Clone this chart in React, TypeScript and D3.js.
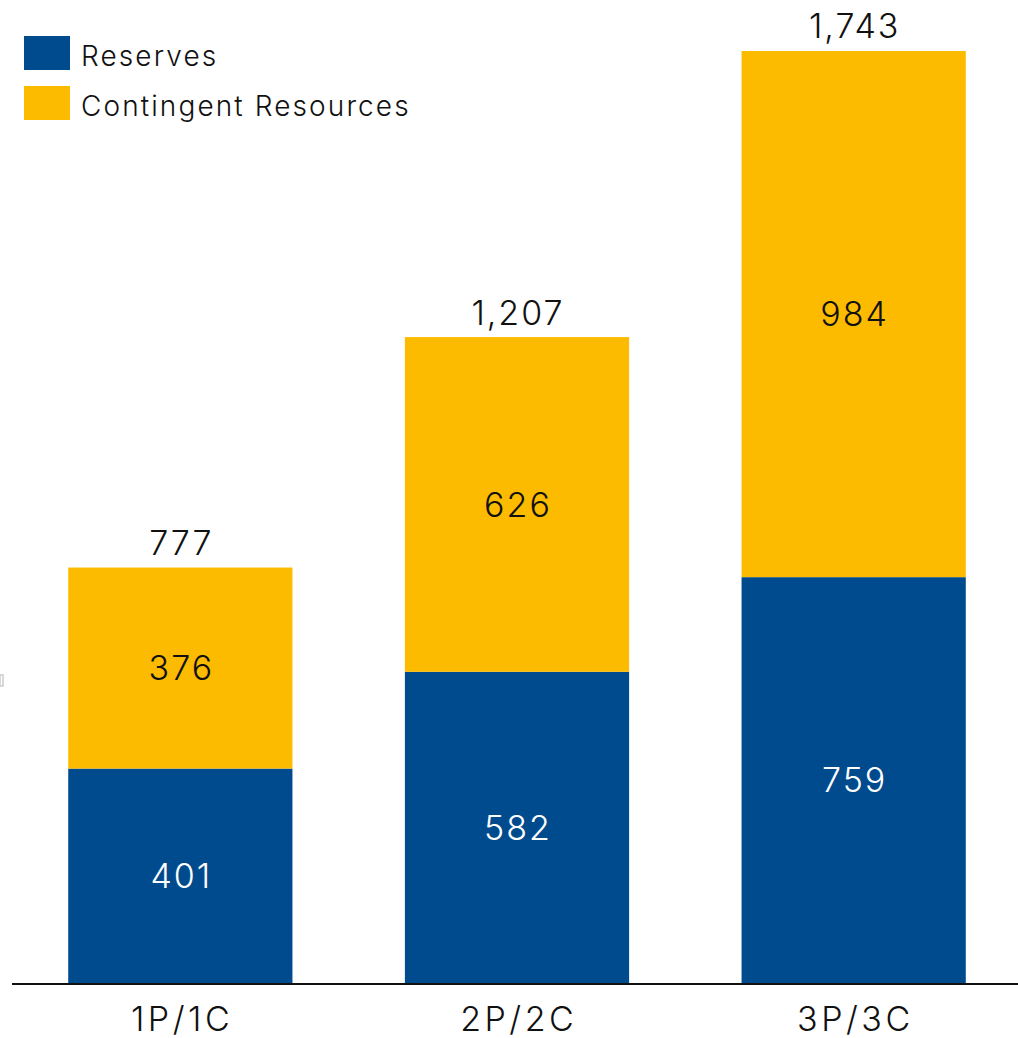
import React from "react";
import * as d3 from "d3";

const categories = ["1P/1C", "2P/2C", "3P/3C"];
const reserves = [401, 582, 759];
const contingent = [376, 626, 984];
const totals = [777, 1207, 1743];
const seriesNames = ["Reserves", "Contingent Resources"];
const colors = ["#004B8D", "#FDBB00"];

const W = 1018;
const H = 1038;
const baseY = 983;
const FONT = "Inter, Roboto, 'Liberation Sans', Arial, sans-serif";

export default function App() {
  const x = d3.scaleBand<string>().domain(categories).range([12, 1022]).paddingInner(0.334).paddingOuter(0.167);
  const y = d3.scaleLinear().domain([0, 1743]).range([baseY, 51]);
  const fmt = d3.format(",");
  const stackData = categories.map((c, i) => ({ cat: c, r: reserves[i], c2: contingent[i] }));
  const stack = d3.stack<any>().keys(["r", "c2"])(stackData);
  const numLS = 2;
  const catLS = 3.5;

  return (
    <svg width={W} height={H} style={{ position: "absolute", left: 0, top: 0, background: "#fff" }} fontFamily={FONT}>
      <rect x={0} y={675} width={3} height={11} fill="none" stroke="#ccc" strokeWidth={1.5} />
      {stack.map((layer, li) => (
        <g key={li}>
          {layer.map((d, i) => {
            const bx = x(categories[i])!;
            const y0 = y(d[0]);
            const y1 = y(d[1]);
            return (
              <g key={i}>
                <rect x={bx} y={y1} width={x.bandwidth()} height={y0 - y1} fill={colors[li]} />
                <text
                  x={bx + x.bandwidth() / 2 + numLS / 2}
                  y={(y0 + y1) / 2}
                  dy="0.36em"
                  textAnchor="middle"
                  fontSize={34}
                  fontWeight={300}
                  letterSpacing={numLS}
                  fill={li === 0 ? "#fff" : "#111"}
                >
                  {d[1] - d[0]}
                </text>
              </g>
            );
          })}
        </g>
      ))}
      {totals.map((t, i) => (
        <text key={i} x={x(categories[i])! + x.bandwidth() / 2 + numLS / 2} y={y(t) - 13} textAnchor="middle" fontSize={34} fontWeight={300} letterSpacing={numLS} fill="#111">
          {fmt(t)}
        </text>
      ))}
      <line x1={12} x2={1018} y1={baseY + 1} y2={baseY + 1} stroke="#111" strokeWidth={2} />
      {categories.map((c, i) => (
        <text key={c} x={x(c)! + x.bandwidth() / 2 + catLS / 2} y={1031} textAnchor="middle" fontSize={34} fontWeight={300} letterSpacing={catLS} fill="#111">
          {c}
        </text>
      ))}
      {seriesNames.map((s, i) => (
        <g key={s} transform={`translate(24, ${36 + i * 50})`}>
          <rect width={46} height={34} fill={colors[i]} />
          <text x={57} y={30} fontSize={28} fontWeight={300} letterSpacing={2.1} fill="#111">{s}</text>
        </g>
      ))}
    </svg>
  );
}
